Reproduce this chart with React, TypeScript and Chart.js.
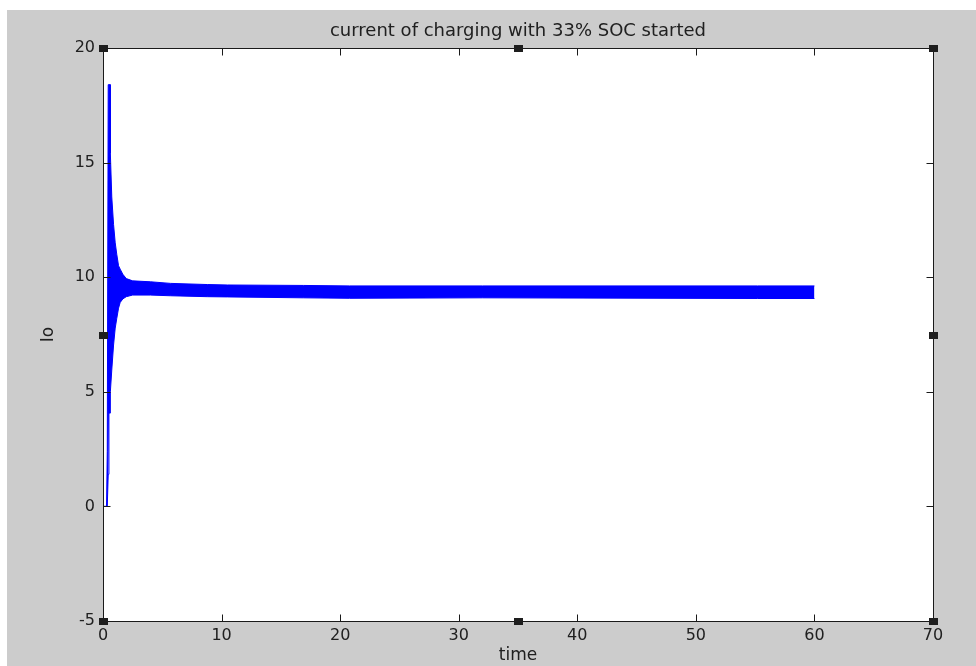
import React, { useEffect, useRef } from 'react';
import { Chart, registerables } from 'chart.js';

Chart.register(...registerables);

// ---- data ----
const timeValues = [0, 0.3, 0.36, 0.44, 0.5, 0.61, 0.62, 0.74, 0.89, 1.03, 1.16, 1.31, 1.45, 1.67, 1.96, 2.5, 4.0, 5.7, 8.8, 10.5, 16.9, 20.8, 32, 55.2, 60];
const upperEnvelope = [0, 0, 2.4, 18.4, 18.4, 18.4, 15.4, 13.5, 12.3, 11.5, 11.0, 10.5, 10.35, 10.13, 9.94, 9.84, 9.8, 9.73, 9.68, 9.66, 9.64, 9.62, 9.62, 9.62, 9.62];
const lowerEnvelope = [0, 0, 0, 1.4, 4.07, 4.07, 5.0, 5.95, 7.04, 7.78, 8.2, 8.65, 8.9, 9.05, 9.15, 9.22, 9.22, 9.19, 9.15, 9.14, 9.1, 9.08, 9.1, 9.07, 9.07];
const xTickValues = [0, 10, 20, 30, 40, 50, 60, 70];
const yTickValues = [-5, 0, 5, 10, 15, 20];
const titleText = 'current of charging with 33% SOC started';
const xAxisLabel = 'time';
const yAxisLabel = 'Io';

const W = 976;
const H = 666;
const FONT = 'DejaVu Sans';
const TEXT = '#202020';
const BLUE = '#0000ff';

const framePlugin = {
  id: 'matlabFrame',
  beforeDraw(chart: any) {
    const ctx = chart.ctx;
    const { left, top, right, bottom } = chart.chartArea;
    ctx.save();
    ctx.fillStyle = '#ffffff';
    ctx.fillRect(0, 0, W, H);
    ctx.fillStyle = '#cccccc';
    ctx.fillRect(7, 10, W - 7, H - 10);
    ctx.fillStyle = '#ffffff';
    ctx.fillRect(left, top, right - left, bottom - top);
    ctx.restore();
  },
  afterDraw(chart: any) {
    const ctx = chart.ctx;
    const { left, top, right, bottom } = chart.chartArea;
    const xs = chart.scales.x;
    const ys = chart.scales.y;
    const L = Math.round(left) + 0.5;
    const R = Math.round(right) + 0.5;
    const T = Math.round(top) + 0.5;
    const B = Math.round(bottom) + 0.5;
    const tick = 7;
    ctx.save();
    ctx.strokeStyle = '#1a1a1a';
    ctx.lineWidth = 1;
    ctx.beginPath();
    ctx.rect(L, T, R - L, B - T);
    xs.ticks.forEach((t: any) => {
      const px = Math.round(xs.getPixelForValue(t.value)) + 0.5;
      ctx.moveTo(px, B);
      ctx.lineTo(px, B - tick);
      ctx.moveTo(px, T);
      ctx.lineTo(px, T + tick);
    });
    ys.ticks.forEach((t: any) => {
      const py = Math.round(ys.getPixelForValue(t.value)) + 0.5;
      ctx.moveTo(L, py);
      ctx.lineTo(L + tick, py);
      ctx.moveTo(R, py);
      ctx.lineTo(R - tick, py);
    });
    ctx.stroke();
    // selection handles
    const mx = (left + right) / 2;
    const my = (top + bottom) / 2;
    const handles = [
      [left, top], [mx, top], [right, top],
      [left, my], [right, my],
      [left, bottom], [mx, bottom], [right, bottom],
    ];
    handles.forEach(([hx, hy]) => {
      ctx.fillStyle = '#1e1e1e';
      ctx.fillRect(Math.round(hx) - 4, Math.round(hy) - 3, 9, 7);
    });
    ctx.restore();
  },
};

export default function App() {
  const ref = useRef<HTMLCanvasElement | null>(null);

  useEffect(() => {
    document.body.style.margin = '0';
    const canvas = ref.current;
    if (!canvas) return;
    const lower = timeValues.map((t, i) => ({ x: t, y: lowerEnvelope[i] }));
    const upper = timeValues.map((t, i) => ({ x: t, y: upperEnvelope[i] }));
    const chart = new Chart(canvas, {
      type: 'line',
      data: {
        datasets: [
          {
            label: 'Io lower',
            data: lower,
            borderColor: BLUE,
            borderWidth: 1,
            pointRadius: 0,
            fill: false,
          },
          {
            label: 'Io upper',
            data: upper,
            borderColor: BLUE,
            backgroundColor: BLUE,
            borderWidth: 1,
            pointRadius: 0,
            fill: '-1',
          },
        ],
      },
      options: {
        animation: false,
        responsive: false,
        devicePixelRatio: 1,
        layout: { padding: { left: 0, right: 43, top: 0, bottom: 0 } },
        plugins: {
          legend: { display: false },
          tooltip: { enabled: false },
          title: {
            display: true,
            text: titleText,
            fullSize: false,
            color: TEXT,
            font: { family: FONT, size: 18, weight: 'normal' },
            padding: { top: 21, bottom: 5.4 },
          },
        },
        scales: {
          x: {
            type: 'linear',
            min: 0,
            max: 70,
            afterBuildTicks: (s: any) => {
              s.ticks = xTickValues.map((v) => ({ value: v }));
            },
            afterFit: (s: any) => {
              s.height = 45;
            },
            grid: { display: false, drawTicks: false },
            border: { display: false },
            ticks: {
              padding: 5,
              color: TEXT,
              autoSkip: false,
              maxRotation: 0,
              font: { family: FONT, size: 16 },
            },
            title: {
              display: true,
              text: xAxisLabel,
              color: TEXT,
              font: { family: FONT, size: 17 },
              padding: { top: 0, bottom: 0 },
            },
          },
          y: {
            type: 'linear',
            min: -5,
            max: 20,
            afterBuildTicks: (s: any) => {
              s.ticks = yTickValues.map((v) => ({ value: v }));
            },
            afterFit: (s: any) => {
              s.width = 103;
            },
            grid: { display: false, drawTicks: false },
            border: { display: false },
            ticks: {
              padding: 8,
              color: TEXT,
              autoSkip: false,
              font: { family: FONT, size: 16 },
            },
            title: {
              display: true,
              text: yAxisLabel,
              color: TEXT,
              font: { family: FONT, size: 17 },
              padding: { top: 38, bottom: 0 },
            },
          },
        },
      },
      plugins: [framePlugin],
    } as any);
    return () => chart.destroy();
  }, []);

  return (
    <canvas
      ref={ref}
      width={W}
      height={H}
      style={{ display: 'block', width: W, height: H }}
    />
  );
}
